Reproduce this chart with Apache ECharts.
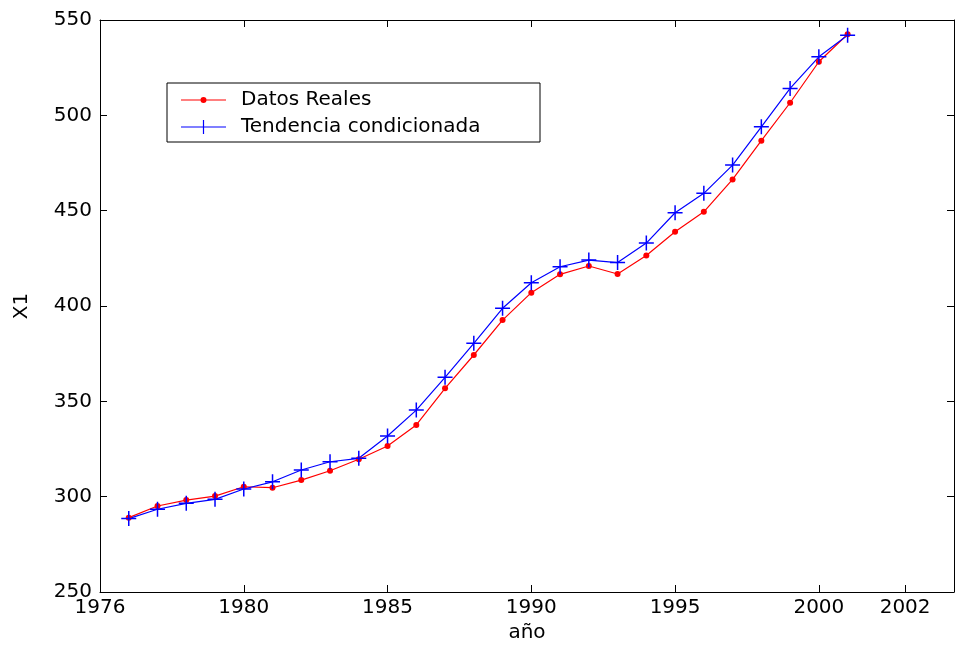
<!DOCTYPE html>
<html>
<head>
<meta charset="utf-8">
<script src="https://cdn.jsdelivr.net/npm/echarts@6/dist/echarts.min.js"></script>
<style>
  html, body { margin: 0; padding: 0; background: #fff; }
  #chart { width: 957px; height: 650px; }
</style>
</head>
<body>
<div id="chart"></div>
<script>
// Años de la serie
const years = [1976, 1977, 1978, 1979, 1980, 1981, 1982, 1983, 1984, 1985,
               1986, 1987, 1988, 1989, 1990, 1991, 1992, 1993, 1994, 1995,
               1996, 1997, 1998, 1999, 2000, 2001];

// Datos Reales (X1)
const datosReales = [289.0, 295.1, 298.2, 300.3, 305.2, 304.7, 308.7, 313.6, 319.6, 326.6,
                     337.6, 356.8, 374.3, 392.6, 407.0, 416.6, 421.0, 416.8, 426.5, 438.9,
                     449.4, 466.4, 486.7, 506.6, 528.1, 542.5];

// Tendencia condicionada
const tendencia = [288.5, 293.4, 296.5, 298.6, 304.0, 307.8, 314.0, 318.3, 320.1, 331.8,
                   345.4, 362.6, 380.4, 398.8, 412.2, 420.6, 424.1, 422.8, 433.0, 448.9,
                   459.1, 473.9, 494.0, 514.1, 530.7, 542.0];

// Marcas del eje x y sus rótulos
const xTickValues = [1975, 1980, 1985, 1990, 1995, 2000, 2003];
const xTickLabels = ['1976', '1980', '1985', '1990', '1995', '2000', '2002'];

const FONT = 'DejaVu Sans';

// Marcador en cruz para la tendencia
const plus = 'path://M-0.1,-1L0.1,-1L0.1,-0.1L1,-0.1L1,0.1L0.1,0.1L0.1,1L-0.1,1L-0.1,0.1L-1,0.1L-1,-0.1L-0.1,-0.1Z';

// Iconos de leyenda: línea con su marcador (45 px de ancho)
const iconReales = 'path://M0,2.4L19.6,2.4L19.6,3.6L0,3.6Z' +
                   'M25.4,2.4L45,2.4L45,3.6L25.4,3.6Z' +
                   'M25.5,3A3,3 0 1,1 19.5,3A3,3 0 1,1 25.5,3Z';
const iconTendencia = 'path://M0,6.4L45,6.4L45,7.6L0,7.6Z' +
                      'M21.9,0L23.1,0L23.1,6.4L21.9,6.4Z' +
                      'M21.9,7.6L23.1,7.6L23.1,14L21.9,14Z';

const xMin = 1975, xMax = 2004.7;

function pairs(vals) {
  return years.map((y, i) => [y, vals[i]]);
}

const chart = echarts.init(document.getElementById('chart'), null, { renderer: 'canvas' });

const tickCommon = { show: true, inside: true, length: 7, lineStyle: { color: '#000', width: 1 } };

chart.setOption({
  backgroundColor: '#fff',
  animation: false,
  grid: { left: 100, right: 3, top: 20, bottom: 58, containLabel: false },
  legend: {
    orient: 'vertical',
    left: 167,
    top: 83,
    padding: [7, 10, 5, 14],
    itemGap: 7,
    itemWidth: 45,
    itemHeight: 14,
    symbolKeepAspect: true,
    borderColor: '#000',
    borderWidth: 1,
    backgroundColor: '#fff',
    textStyle: {
      fontFamily: FONT, fontSize: 20, color: '#000',
      width: 289, lineHeight: 20, padding: [0, 0, 0, 10]
    },
    data: [
      { name: 'Datos Reales', icon: iconReales, itemStyle: { color: '#ff0000' } },
      { name: 'Tendencia condicionada', icon: iconTendencia, itemStyle: { color: '#0000ff' } }
    ]
  },
  xAxis: [
    {
      type: 'value', min: xMin, max: xMax, position: 'bottom',
      name: 'año', nameLocation: 'middle', nameGap: 31,
      nameTextStyle: { fontFamily: FONT, fontSize: 20, color: '#000' },
      axisLine: { show: true, onZero: false, lineStyle: { color: '#000', width: 1 } },
      axisTick: Object.assign({ customValues: xTickValues }, tickCommon),
      axisLabel: {
        customValues: xTickValues,
        fontFamily: FONT, fontSize: 20, color: '#000', margin: 6,
        formatter: v => xTickLabels[xTickValues.indexOf(v)] ?? ''
      },
      splitLine: { show: false }
    },
    {
      type: 'value', min: xMin, max: xMax, position: 'top',
      axisLine: { show: true, onZero: false, lineStyle: { color: '#000', width: 1 } },
      axisTick: Object.assign({ customValues: xTickValues }, tickCommon),
      axisLabel: { show: false },
      splitLine: { show: false }
    }
  ],
  yAxis: [
    {
      type: 'value', min: 250, max: 550, interval: 50, position: 'left',
      name: 'X1', nameLocation: 'middle', nameGap: 68,
      nameTextStyle: { fontFamily: FONT, fontSize: 20, color: '#000' },
      axisLine: { show: true, onZero: false, lineStyle: { color: '#000', width: 1 } },
      axisTick: tickCommon,
      axisLabel: { fontFamily: FONT, fontSize: 20, color: '#000', margin: 8 },
      splitLine: { show: false }
    },
    {
      type: 'value', min: 250, max: 550, interval: 50, position: 'right',
      axisLine: { show: true, onZero: false, lineStyle: { color: '#000', width: 1 } },
      axisTick: tickCommon,
      axisLabel: { show: false },
      splitLine: { show: false }
    }
  ],
  series: [
    {
      name: 'Datos Reales',
      type: 'line',
      data: pairs(datosReales),
      symbol: 'circle',
      symbolSize: 6,
      showAllSymbol: true,
      lineStyle: { color: '#ff0000', width: 1.2 },
      itemStyle: { color: '#ff0000', borderWidth: 0 }
    },
    {
      name: 'Tendencia condicionada',
      type: 'line',
      data: pairs(tendencia),
      symbol: plus,
      symbolSize: 15,
      showAllSymbol: true,
      lineStyle: { color: '#0000ff', width: 1.2 },
      itemStyle: { color: '#0000ff', borderWidth: 0 }
    }
  ]
});
</script>
</body>
</html>
